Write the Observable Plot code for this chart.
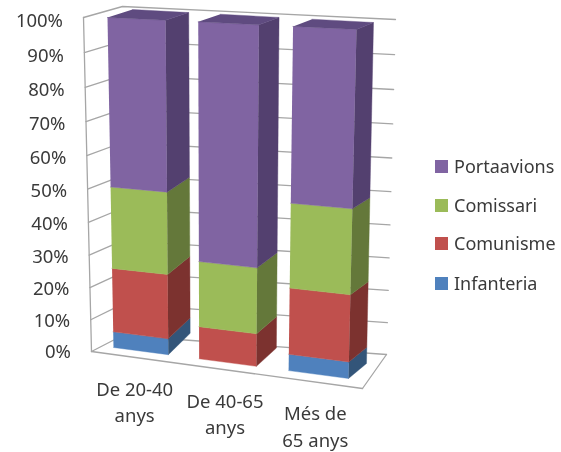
<!DOCTYPE html>
<html><head><meta charset="utf-8">
<script src="https://cdn.jsdelivr.net/npm/d3@7"></script>
<script src="https://cdn.jsdelivr.net/npm/@observablehq/plot@0.6"></script>
<style>
html,body{margin:0;padding:0;background:#fff}
#chart{position:relative;width:561px;height:452px;font-family:"Noto Sans",sans-serif;color:#3a3a3a;overflow:hidden}
#chart svg{position:absolute;left:0;top:0;filter:blur(.45px)}
.lg{position:absolute;left:435px;font-size:18px;line-height:20px;white-space:nowrap;filter:blur(.35px)}
.lg i{position:absolute;left:0;top:4px;width:13px;height:13px}
.lg span{position:absolute;left:19px;top:0}
</style></head><body><div id="chart"></div>
<script>
const categories = ["De 20-40 anys","De 40-65 anys","Més de 65 anys"];
const categoryLines = [["De 20-40","anys"],["De 40-65","anys"],["Més de","65 anys"]];
const seriesNames = ["Infanteria","Comunisme","Comissari","Portaavions"];
const infanteria = [5,0,5];
const comunisme = [20,10,20];
const comissari = [25,20,25];
const portaavions = [50,70,50];
const seriesValues = [infanteria,comunisme,comissari,portaavions];
const ticks = [0,10,20,30,40,50,60,70,80,90,100];
const frontColors = ["#4F81BD","#C0504D","#9BBB59","#8064A2"];
const sideColors = ["#335579","#7C322F","#64783A","#53406F"];
const topColors = ["#3C6390","#92403D","#77893F","#5F4B80"];

// 3D view: corners of the wall box and of the volume taken by the bars
const wallBox = {
  fbl:[91,351], fbr:[362,388], bbl:[122,335], bbr:[386,354],
  ftl:[83,17],  ftr:[371,31],  btl:[122,6],   btr:[395,19]
};
const barBox = {
  fbl:[113,347], fbr:[348,378], bbl:[136,323.6], bbr:[366,363],
  ftl:[107,17],  ftr:[356,29],  btl:[132,9],     btr:[373,22]
};
const mix=(a,b,t)=>[a[0]+(b[0]-a[0])*t,a[1]+(b[1]-a[1])*t];
const warp=(t,k)=>t/(t+k*(1-t));
function project(box,u,v,z){ // u across, v value 0..1, z depth 0..1
  const f=warp(v,1.057);
  const fb=mix(box.fbl,box.fbr,u), ft=mix(box.ftl,box.ftr,u);
  const bb=mix(box.bbl,box.bbr,u), bt=mix(box.btl,box.btr,u);
  return mix(mix(fb,ft,f),mix(bb,bt,f),z);
}
const P=(u,v,z)=>project(wallBox,u,v,z);
const B=(u,v,z)=>project(barBox,warp(u,1.06),v,z);
const gap=0.55, barW=1/(categories.length+(categories.length-1)*gap);
const faces=[];
function quad(id,color,pts){pts.forEach(p=>faces.push({id,color,x:p[0],y:p[1]}));}
categories.forEach((c,i)=>{
  const u0=i*barW*(1+gap), u1=u0+barW;
  let acc=0;
  seriesValues.forEach((vals,s)=>{
    const a=acc/100, b=(acc+vals[i])/100; acc+=vals[i];
    if(vals[i]===0) return;
    quad(`f${i}${s}`,frontColors[s],[B(u0,a,0),B(u1,a,0),B(u1,b,0),B(u0,b,0)]);
    quad(`s${i}${s}`,sideColors[s],[B(u1,a,0),B(u1,a,1),B(u1,b,1),B(u1,b,0)]);
    if(s===seriesValues.length-1) quad(`t${i}${s}`,topColors[s],[B(u0,b,0),B(u1,b,0),B(u1,b,1),B(u0,b,1)]);
  });
});
const grid=[];
ticks.forEach(t=>{const v=t/100;[P(0,v,0),P(0,v,1),P(1,v,1)].forEach(p=>grid.push({id:t,x:p[0],y:p[1]}));});
[[P(0,0,0),P(0,1,0)],[P(0,0,0),P(1,0,0)],[P(1,0,0),P(1,0,1)]].forEach((l,k)=>l.forEach(p=>grid.push({id:"e"+k,x:p[0],y:p[1]})));
const tickLabels=ticks.map(t=>{const p=P(0,t/100,0);return {x:p[0]-20.5,y:p[1]+1+2.5*t/100,t:t+"%"};});
const catLabels=[];
categoryLines.forEach((ls,i)=>{const p=P((i+.5)/categories.length,0,0);ls.forEach((s,k)=>catLabels.push({x:p[0]-2,y:p[1]+32+k*26.5,s}));});

const plot=Plot.plot({
  width:561,height:452,margin:0,
  x:{domain:[0,561],range:[0,561],axis:null},
  y:{domain:[0,452],range:[0,452],axis:null},
  color:{type:"identity"},
  marks:[
    Plot.line(grid,{x:"x",y:"y",z:"id",stroke:"#a6a6a6",strokeWidth:1.3,curve:"linear"}),
    Plot.line(faces,{x:"x",y:"y",z:"id",fill:"color",stroke:"color",strokeWidth:.4,curve:"linear"}),
    Plot.text(tickLabels,{x:"x",y:"y",text:"t",textAnchor:"end",fontSize:18.5,fill:"#3a3a3a"}),
    Plot.text(catLabels,{x:"x",y:"y",text:"s",textAnchor:"middle",fontSize:18.5,fill:"#3a3a3a"})
  ]
});
const root=document.getElementById("chart");
root.appendChild(plot);
const legendY=[156,195,233,273];
[...seriesNames].reverse().forEach((n,i)=>{
  const d=document.createElement("div");d.className="lg";d.style.top=legendY[i]+"px";
  const sw=document.createElement("i");sw.style.background=frontColors[3-i];
  const sp=document.createElement("span");sp.textContent=n;
  d.append(sw,sp);root.appendChild(d);
});
</script></body></html>
